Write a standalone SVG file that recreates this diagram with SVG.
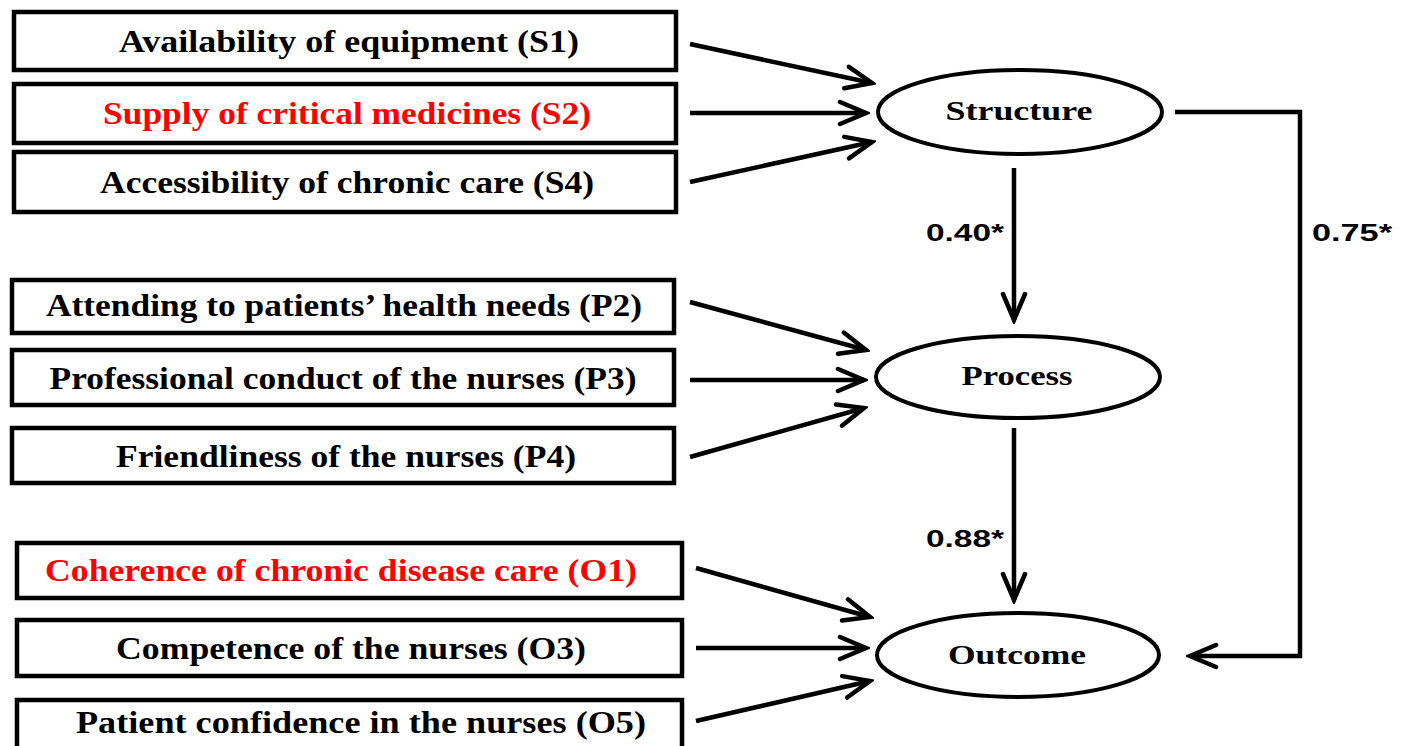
<svg xmlns="http://www.w3.org/2000/svg" width="1408" height="746" viewBox="0 0 1408 746">
<style>
.box{fill:#fff;stroke:#000;stroke-width:4.5}
.ell{fill:#fff;stroke:#000;stroke-width:4}
.t{font-family:"Liberation Serif","Times New Roman",serif;font-weight:bold;font-size:32px;fill:#000;text-anchor:middle}
.red{fill:#ff0000}
.lt{font-family:"Liberation Serif","Times New Roman",serif;font-weight:bold;font-size:28px;fill:#000;text-anchor:middle}
.num{font-family:"Liberation Sans",Arial,sans-serif;font-weight:bold;font-size:24px;fill:#000}
.c{fill:none;stroke:#000;stroke-width:4.5;marker-end:url(#ah)}
</style>
<defs>
<marker id="ah" markerUnits="userSpaceOnUse" viewBox="-30 -14 34 28" refX="0" refY="0" markerWidth="34" markerHeight="28" orient="auto">
<path d="M-26,-11 L0,0 L-26,11" fill="none" stroke="#000" stroke-width="4.5" stroke-linecap="round" stroke-linejoin="miter"/>
</marker>
</defs>
<rect width="1408" height="746" fill="#fff"/>
<g id="S1"><rect class="box" x="14" y="12" width="662" height="58"/><text class="t" x="349" y="52" textLength="460" lengthAdjust="spacingAndGlyphs">Availability of equipment (S1)</text></g>
<g id="S2"><rect class="box" x="14" y="84" width="662" height="59"/><text class="t red" x="347" y="124" textLength="488" lengthAdjust="spacingAndGlyphs">Supply of critical medicines (S2)</text></g>
<g id="S4"><rect class="box" x="14" y="152" width="662" height="60"/><text class="t" x="347" y="193" textLength="494" lengthAdjust="spacingAndGlyphs">Accessibility of chronic care (S4)</text></g>
<g id="P2"><rect class="box" x="12" y="280" width="662" height="53"/><text class="t" x="344" y="316" textLength="596" lengthAdjust="spacingAndGlyphs">Attending to patients’ health needs (P2)</text></g>
<g id="P3"><rect class="box" x="12" y="350" width="662" height="55"/><text class="t" x="343" y="389" textLength="587" lengthAdjust="spacingAndGlyphs">Professional conduct of the nurses (P3)</text></g>
<g id="P4"><rect class="box" x="12" y="428" width="662" height="55"/><text class="t" x="346" y="467" textLength="460" lengthAdjust="spacingAndGlyphs">Friendliness of the nurses (P4)</text></g>
<g id="O1"><rect class="box" x="17" y="543" width="665" height="55"/><text class="t red" x="341" y="581" textLength="592" lengthAdjust="spacingAndGlyphs">Coherence of chronic disease care (O1)</text></g>
<g id="O3"><rect class="box" x="17" y="620" width="665" height="56"/><text class="t" x="351" y="659" textLength="470" lengthAdjust="spacingAndGlyphs">Competence of the nurses (O3)</text></g>
<g id="O5"><rect class="box" x="17" y="700" width="665" height="52"/><text class="t" x="361" y="733" textLength="570" lengthAdjust="spacingAndGlyphs">Patient confidence in the nurses (O5)</text></g>
<g id="Structure"><ellipse class="ell" cx="1020" cy="112" rx="142" ry="42"/><text class="lt" x="1019" y="120" textLength="147" lengthAdjust="spacingAndGlyphs">Structure</text></g>
<g id="Process"><ellipse class="ell" cx="1018" cy="377" rx="142" ry="41"/><text class="lt" x="1017" y="385" textLength="111" lengthAdjust="spacingAndGlyphs">Process</text></g>
<g id="Outcome"><ellipse class="ell" cx="1018" cy="655" rx="141" ry="42"/><text class="lt" x="1017" y="664" textLength="138" lengthAdjust="spacingAndGlyphs">Outcome</text></g>
<g id="connectors">
<line class="c" x1="690" y1="44" x2="872" y2="83"/>
<line class="c" x1="690" y1="113" x2="866" y2="113"/>
<line class="c" x1="690" y1="182" x2="872" y2="142"/>
<line class="c" x1="690" y1="302" x2="866" y2="350"/>
<line class="c" x1="690" y1="380" x2="864" y2="380"/>
<line class="c" x1="690" y1="457" x2="864" y2="408"/>
<line class="c" x1="696" y1="568" x2="870" y2="617"/>
<line class="c" x1="696" y1="648" x2="866" y2="648"/>
<line class="c" x1="696" y1="721" x2="870" y2="681"/>
<line class="c" x1="1014" y1="168" x2="1014" y2="320"/>
<line class="c" x1="1014" y1="428" x2="1014" y2="600"/>
<polyline class="c" points="1175,112 1300,112 1300,656 1190,656"/>
<text class="num" x="926" y="241" textLength="78" lengthAdjust="spacingAndGlyphs">0.40*</text>
<text class="num" x="1312" y="241" textLength="80" lengthAdjust="spacingAndGlyphs">0.75*</text>
<text class="num" x="926" y="547" textLength="78" lengthAdjust="spacingAndGlyphs">0.88*</text>
</g>
</svg>
